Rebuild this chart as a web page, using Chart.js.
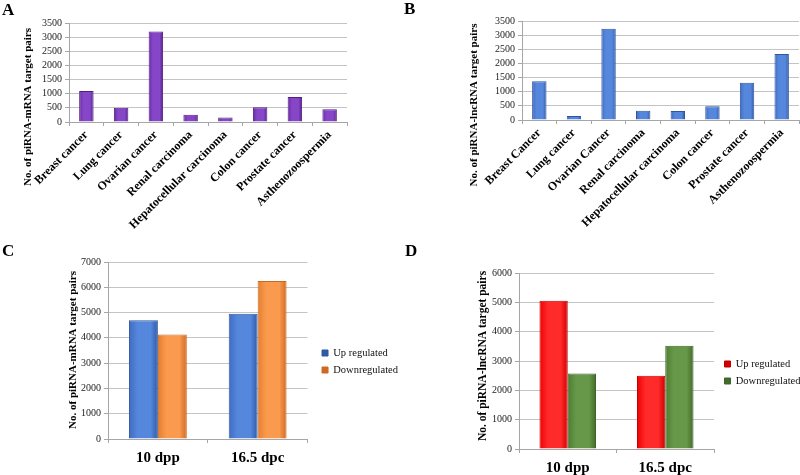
<!DOCTYPE html>
<html><head><meta charset="utf-8">
<script src="https://cdn.jsdelivr.net/npm/chart.js@4.4.1/dist/chart.umd.min.js"></script>
<style>
html,body{margin:0;padding:0;background:#fff;}
#wrap{position:relative;width:800px;height:475px;overflow:hidden;background:#fff;}
.panel{position:absolute;}
.panel canvas{display:block;}
.letter{position:absolute;font:bold 17px "Liberation Serif","Times New Roman",serif;line-height:1;color:#000;}
</style></head><body>
<div id="wrap">
  <div class="panel" style="left:0;top:0;width:400px;height:240px"><canvas id="cA" width="400" height="240" style="width:400px;height:240px"></canvas></div>
  <div class="panel" style="left:400px;top:0;width:400px;height:240px"><canvas id="cB" width="400" height="240" style="width:400px;height:240px"></canvas></div>
  <div class="panel" style="left:0;top:240px;width:400px;height:235px"><canvas id="cC" width="400" height="235" style="width:400px;height:235px"></canvas></div>
  <div class="panel" style="left:400px;top:240px;width:400px;height:235px"><canvas id="cD" width="400" height="235" style="width:400px;height:235px"></canvas></div>
  <div class="letter" style="left:2px;top:1px">A</div>
  <div class="letter" style="left:404px;top:0px">B</div>
  <div class="letter" style="left:2px;top:242px">C</div>
  <div class="letter" style="left:405px;top:242px">D</div>
</div>
<script>
// ---- data ----
const categoriesA = ['Breast cancer','Lung cancer','Ovarian cancer','Renal carcinoma','Hepatocellular carcinoma','Colon cancer','Prostate cancer','Asthenozoospermia'];
const valuesA = [1100, 500, 3200, 260, 160, 520, 880, 450];
const categoriesB = ['Breast Cancer','Lung cancer','Ovarian Cancer','Renal carcinoma','Hepatocellular carcinoma','Colon cancer','Prostate cancer','Asthenozoospermia'];
const valuesB = [1370, 140, 3230, 330, 320, 490, 1320, 2330];
const stages = ['10 dpp', '16.5 dpc'];
const seriesNames = ['Up regulated', 'Downregulated'];
const upMRNA = [4700, 4950];
const downMRNA = [4130, 6250];
const upLncRNA = [5050, 2500];
const downLncRNA = [2570, 3520];
const ticksAB = [0, 500, 1000, 1500, 2000, 2500, 3000, 3500];
const ticksC = [0, 1000, 2000, 3000, 4000, 5000, 6000, 7000];
const ticksD = [0, 1000, 2000, 3000, 4000, 5000, 6000];
const yTitleA = 'No. of piRNA-mRNA target pairs';
const yTitleB = 'No. of piRNA-lncRNA target pairs';

// ---- styling ----
const SERIF = '"Liberation Serif", "Times New Roman", serif';
Chart.defaults.font.family = SERIF;
Chart.defaults.color = '#000';
const GRID = '#C4C4C4';
const AXIS = '#A6A6A6';

const yTitlePlugin = {
  id: 'yTitle',
  afterDraw(chart, args, opts) {
    if (!opts || !opts.text) return;
    const ctx = chart.ctx;
    ctx.save();
    ctx.translate(opts.x, opts.y);
    ctx.rotate(-Math.PI / 2);
    ctx.font = 'bold ' + opts.size + 'px ' + SERIF;
    ctx.fillStyle = '#000';
    ctx.textAlign = 'center';
    ctx.textBaseline = 'middle';
    ctx.fillText(opts.text, 0, 0);
    ctx.restore();
  }
};
const shiftLegend = {
  id: 'shiftLegend',
  afterLayout(chart, args, opts) {
    const lg = chart.legend;
    if (!lg || !opts) return;
    const dx = opts.dx || 0, dy = opts.dy || 0;
    lg.left += dx; lg.right += dx; lg.top += dy; lg.bottom += dy;
  }
};

// horizontal shading across each bar (cylinder-like look)
function shade(cEdge, cMid, cDark, groupFrac, nSets) {
  return (ctx) => {
    const chart = ctx.chart;
    const xs = chart.scales && chart.scales.x;
    if (!xs || !xs.width || ctx.dataIndex == null || ctx.type !== 'data') return cMid;
    const n = chart.data.labels.length;
    const gw = xs.width / n * groupFrac;
    const bw = gw / nSets;
    const left = xs.getPixelForValue(ctx.dataIndex) - gw / 2 + ctx.datasetIndex * bw;
    const g = chart.ctx.createLinearGradient(left, 0, left + bw, 0);
    g.addColorStop(0, cEdge);
    g.addColorStop(0.3, cMid);
    g.addColorStop(0.75, cMid);
    g.addColorStop(1, cDark);
    return g;
  };
}

function yAxis(max, tickList, width) {
  return {
    min: 0, max: max,
    afterBuildTicks(s) { s.ticks = tickList.map(v => ({ value: v })); },
    ticks: { autoSkip: false, font: { size: 10 }, color: '#222', padding: 3, callback: v => String(v) },
    grid: { color: GRID, tickLength: 4, tickColor: AXIS, lineWidth: 1 },
    border: { color: AXIS },
    afterFit(s) { s.width = width; }
  };
}

function catChart(id, cats, vals, fill, border, yt, pad, yw, xh) {
  new Chart(document.getElementById(id), {
    type: 'bar',
    data: { labels: cats, datasets: [{ data: vals, backgroundColor: fill, borderColor: border, borderWidth: 1, categoryPercentage: 0.8, barPercentage: 0.52 }] },
    options: {
      responsive: false, animation: false, devicePixelRatio: 1,
      layout: { padding: pad },
      plugins: { legend: { display: false }, tooltip: { enabled: false }, yTitle: yt },
      scales: {
        x: {
          ticks: { font: { size: 12, weight: 'bold' }, color: '#000', minRotation: 45, maxRotation: 45, autoSkip: false, padding: 2 },
          grid: { drawOnChartArea: false, tickLength: 4, color: AXIS },
          border: { color: AXIS },
          afterFit(s) { s.height = xh; }
        },
        y: yAxis(3500, ticksAB, yw)
      }
    },
    plugins: [yTitlePlugin]
  });
}

catChart('cA', categoriesA, valuesA, shade('#6A2AA6', '#8646C8', '#55208A', 0.8 * 0.52, 1), '#54207F',
  { text: yTitleA, x: 28, y: 107, size: 11 },
  { left: 0, right: 53, top: 23, bottom: 0 }, 69, 118);
catChart('cB', categoriesB, valuesB, shade('#3E6CC2', '#5587DC', '#2F5AA8', 0.8 * 0.52, 1), '#2F559E',
  { text: yTitleB, x: 74, y: 105, size: 11 },
  { left: 0, right: 1, top: 21, bottom: 0 }, 122, 120);

function groupChart(id, up, down, fUp, bUp, fDown, bDown, max, tickList, yt, pad, yw, xh, legW, shift) {
  new Chart(document.getElementById(id), {
    type: 'bar',
    data: {
      labels: stages,
      datasets: [
        { label: seriesNames[0], data: up, backgroundColor: fUp, borderColor: bUp, borderWidth: 1, categoryPercentage: 0.58, barPercentage: 1.0 },
        { label: seriesNames[1], data: down, backgroundColor: fDown, borderColor: bDown, borderWidth: 1, categoryPercentage: 0.58, barPercentage: 1.0 }
      ]
    },
    options: {
      responsive: false, animation: false, devicePixelRatio: 1,
      layout: { padding: pad },
      plugins: {
        legend: { position: 'right', align: 'center', maxWidth: legW, labels: { boxWidth: 6, boxHeight: 6, padding: 6.5, font: { size: 10.5 }, color: '#111' } },
        tooltip: { enabled: false },
        yTitle: yt,
        shiftLegend: shift
      },
      scales: {
        x: {
          ticks: { font: { size: 15, weight: 'bold' }, color: '#000', padding: 6 },
          grid: { drawOnChartArea: false, tickLength: 4, color: AXIS },
          border: { color: AXIS },
          afterFit(s) { s.height = xh; }
        },
        y: yAxis(max, tickList, yw)
      }
    },
    plugins: [yTitlePlugin, shiftLegend]
  });
}

groupChart('cC', upMRNA, downMRNA,
  shade('#3E6CC2', '#5587DC', '#2F5AA8', 0.58, 2), '#2F559E',
  shade('#E57E30', '#FA9A4E', '#D06A22', 0.58, 2), '#C86A20',
  7000, ticksC,
  { text: yTitleA, x: 73, y: 110, size: 11 },
  { left: 0, right: 0, top: 22, bottom: 0 }, 108, 36, 96, { dx: 8, dy: -7 });
groupChart('cD', upLncRNA, downLncRNA,
  shade('#F00000', '#FF2A2A', '#D40000', 0.58, 2), '#C00000',
  shade('#4E7D30', '#67984A', '#426B28', 0.58, 2), '#3E6526',
  6000, ticksD,
  { text: yTitleB, x: 83, y: 116, size: 11.5 },
  { left: 0, right: 0, top: 33, bottom: 0 }, 119, 26, 86, { dx: 4, dy: -1.5 });
</script>
</body></html>
